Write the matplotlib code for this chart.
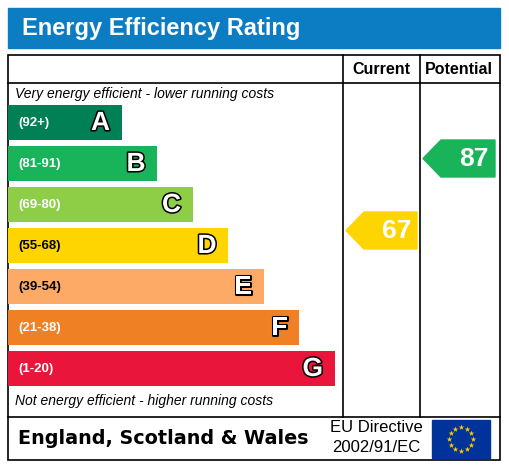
import matplotlib
matplotlib.use("Agg")
import matplotlib.pyplot as plt
from matplotlib.patches import Rectangle, Polygon
import matplotlib.patheffects as pe
import numpy as np

plt.rcParams['font.family'] = ['Liberation Sans', 'DejaVu Sans']

bands = ["A", "B", "C", "D", "E", "F", "G"]
ranges = ["(92+)", "(81-91)", "(69-80)", "(55-68)", "(39-54)", "(21-38)", "(1-20)"]
colors = ["#008054", "#19b459", "#8dce46", "#ffd500", "#fcaa65", "#ef8023", "#e9153b"]
lows = [92, 81, 69, 55, 39, 21, 1]
current = 67
potential = 87

fig = plt.figure(figsize=(5.09, 4.67), dpi=100)
ax = fig.add_axes([0, 0, 1, 1])
ax.set_xlim(0, 509); ax.set_ylim(467, 0); ax.axis("off")

ax.add_patch(Rectangle((8, 8), 492, 40, color="#0c7dc2"))
ax.text(22, 29, "Energy Efficiency Rating", color="white", fontsize=17, fontweight="bold", va="center")

lw = 1.2
ax.add_patch(Rectangle((8, 55), 492, 405, fill=False, ec="black", lw=lw))
ax.plot([8, 500], [83, 83], color="black", lw=lw)
ax.plot([8, 500], [417, 417], color="black", lw=lw)
ax.plot([343, 343], [55, 417], color="black", lw=lw)
ax.plot([420, 420], [55, 417], color="black", lw=lw)
ax.text(381, 69, "Current", ha="center", va="center", fontsize=11.5, fontweight="bold")
ax.text(459, 69, "Potential", ha="center", va="center", fontsize=11.5, fontweight="bold")
ax.text(15, 94, "Very energy efficient - lower running costs", fontsize=10, style="italic", va="center")
ax.text(15, 401, "Not energy efficient - higher running costs", fontsize=10, style="italic", va="center")

tops = [105 + 41 * i for i in range(7)]
ends = [122 + 35.5 * i for i in range(7)]
for i in range(7):
    ax.barh(tops[i] + 17.5, ends[i] - 8, left=8, height=35, color=colors[i])
    tc = "black" if i in (3, 4) else "white"
    ax.text(18, tops[i] + 18, ranges[i], fontsize=9.5, fontweight="bold", color=tc, va="center")
    t = ax.text(ends[i] - 12, tops[i] + 18, bands[i], fontsize=19, fontweight="bold", color="white",
                ha="right", va="center")
    t.set_path_effects([pe.Stroke(linewidth=2.2, foreground="black"), pe.Normal()])

def band_index(v):
    for i, l in enumerate(lows):
        if v >= l:
            return i
    return 6

def arrow(v, x0, x1, yoff):
    i = band_index(v)
    yc = tops[i] + 17.5 + yoff
    h = 37
    pts = [(x0, yc), (x0 + 18, yc - h / 2), (x1, yc - h / 2), (x1, yc + h / 2), (x0 + 18, yc + h / 2)]
    ax.add_patch(Polygon(pts, color=colors[i]))
    ax.text(x1 - 6, yc + 1, str(v), fontsize=19, fontweight="bold", color="white", ha="right", va="center")

arrow(current, 346, 417, -15)
arrow(potential, 423, 495, -5)

ax.text(18, 438, "England, Scotland & Wales", fontsize=13.8, fontweight="bold", va="center",
        family="DejaVu Sans")
ax.text(376, 428, "EU Directive", fontsize=12, ha="center", va="center")
ax.text(376, 448, "2002/91/EC", fontsize=12, ha="center", va="center")
ax.add_patch(Rectangle((432, 420), 58, 38, color="#003399"))
ang = np.linspace(0, 2 * np.pi, 13)[:-1]
ax.scatter(461 + 12 * np.cos(ang), 439 + 12 * np.sin(ang), marker="*", s=18, color="#ffcc00", lw=0)

fig.savefig("out.png", dpi=100)
